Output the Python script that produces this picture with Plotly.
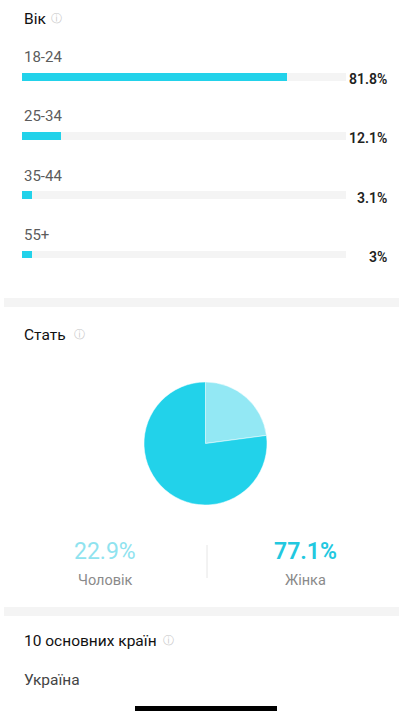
import plotly.graph_objects as go

# ---- data ----
age_groups = ["18-24", "25-34", "35-44", "55+"]
age_values = [81.8, 12.1, 3.1, 3.0]
age_labels = ["81.8%", "12.1%", "3.1%", "3%"]

gender_labels = ["Чоловік", "Жінка"]
gender_values = [22.9, 77.1]
gender_text = ["22.9%", "77.1%"]

W, H = 399, 711
def px(x): return x / W
def py(y): return 1 - y / H

CYAN = "#22d2ea"
LIGHT = "#93e8f4"
TRACK = "#f4f4f4"
FONT = "Roboto"

fig = go.Figure()

# track bars
fig.add_trace(go.Bar(
    y=age_groups, x=[100] * len(age_groups), orientation="h",
    marker=dict(color=TRACK, line=dict(width=0)), width=0.13,
    hoverinfo="skip", showlegend=False))
# value bars
fig.add_trace(go.Bar(
    y=age_groups, x=age_values, orientation="h",
    marker=dict(color=CYAN, line=dict(width=0)), width=0.13,
    hoverinfo="skip", showlegend=False))

# pie
fig.add_trace(go.Pie(
    labels=gender_labels, values=gender_values, sort=False,
    direction="clockwise", rotation=0,
    marker=dict(colors=[LIGHT, CYAN], line=dict(color="white", width=0.5)),
    textinfo="none", hoverinfo="skip", showlegend=False,
    domain=dict(x=[px(144), px(267)], y=[py(505), py(382)])))

top, bottom = 47.4, 284.6
fig.update_layout(
    width=W, height=H, margin=dict(l=0, r=0, t=0, b=0),
    paper_bgcolor="white", plot_bgcolor="white",
    barmode="overlay", bargap=0,
    xaxis=dict(domain=[px(22), px(346)], range=[0, 100], visible=False, fixedrange=True),
    yaxis=dict(domain=[py(bottom), py(top)], range=[3.5, -0.5], visible=False,
               categoryorder="array", categoryarray=age_groups, fixedrange=True),
    font=dict(family=FONT),
)

ann = []
for g, lab in zip(age_groups, age_labels):
    ann.append(dict(xref="paper", x=px(22), yref="y", y=g, yshift=20,
                    text=g, showarrow=False, xanchor="left", yanchor="middle",
                    font=dict(size=15, color="#5c5c5c", family=FONT)))
    ann.append(dict(xref="paper", x=px(389), yref="y", y=g, yshift=-2,
                    text=lab, showarrow=False, xanchor="right", yanchor="middle",
                    font=dict(size=14, color="#222222", family=FONT, weight=600)))

def txt(x, y, t, size, color, anchor="left", family=FONT, weight=400):
    ann.append(dict(xref="paper", yref="paper", x=px(x), y=py(y), text=t, showarrow=False,
                    xanchor=anchor, yanchor="middle",
                    font=dict(size=size, color=color, family=family, weight=weight)))

txt(22, 19, "Вік", 15.5, "#111111")
txt(56, 18, "ⓘ", 11, "#c8c8c8", anchor="center", family="DejaVu Sans")
txt(22, 335, "Стать", 15.5, "#111111")
txt(79, 334, "ⓘ", 11, "#c8c8c8", anchor="center", family="DejaVu Sans")

txt(105, 551, gender_text[0], 23, "#8fe3ef", anchor="center")
txt(305, 551, gender_text[1], 23, "#22c8df", anchor="center", weight=600)
txt(105, 580, gender_labels[0], 14.5, "#8a8a8a", anchor="center")
txt(305, 580, gender_labels[1], 14.5, "#8a8a8a", anchor="center")

txt(22, 641, "10 основних країн", 15.5, "#111111")
txt(168, 640, "ⓘ", 11, "#c8c8c8", anchor="center", family="DejaVu Sans")
txt(22, 680, "Україна", 15.5, "#444444")

shapes = [
    dict(type="rect", xref="paper", yref="paper", x0=px(4), x1=1, y0=py(307), y1=py(298),
         fillcolor=TRACK, line=dict(width=0), layer="below"),
    dict(type="rect", xref="paper", yref="paper", x0=px(4), x1=1, y0=py(616), y1=py(607),
         fillcolor=TRACK, line=dict(width=0), layer="below"),
    dict(type="line", xref="paper", yref="paper", x0=px(207), x1=px(207), y0=py(578), y1=py(545),
         line=dict(color="#e6e6e6", width=1)),
    dict(type="rect", xref="paper", yref="paper", x0=px(135), x1=px(277), y0=py(712), y1=py(706),
         fillcolor="#000000", line=dict(width=0)),
]

fig.update_layout(annotations=ann, shapes=shapes)
fig.write_html("out.html", config={"displayModeBar": False})
